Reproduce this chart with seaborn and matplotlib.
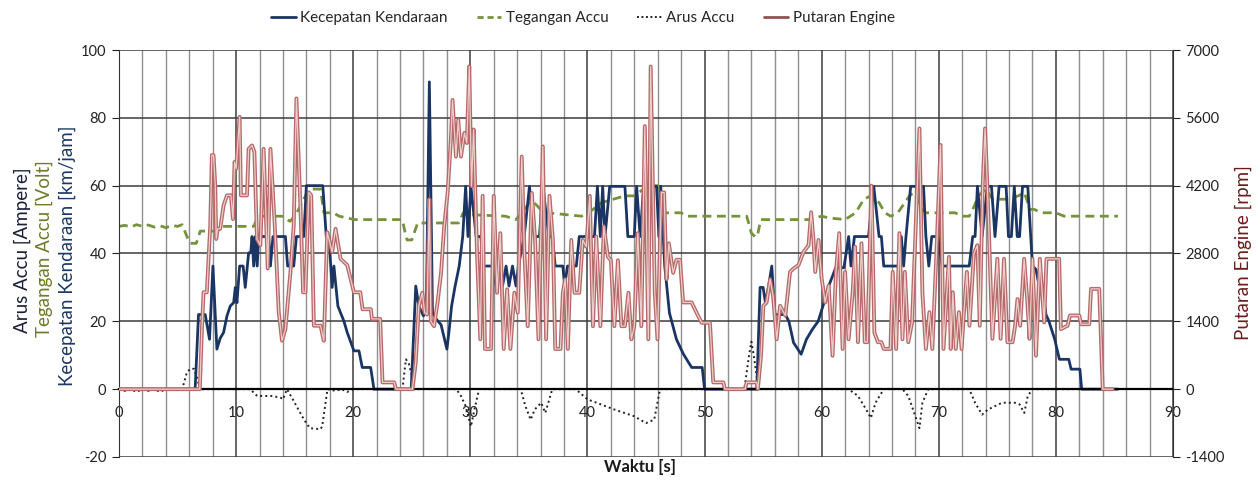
import matplotlib
matplotlib.use("Agg")
import numpy as np
import pandas as pd
import seaborn as sns
import matplotlib.pyplot as plt
from matplotlib.lines import Line2D
from matplotlib.ticker import MultipleLocator

# ---------------- data ----------------
speed_t = [0, 6.5, 6.79, 7.36, 7.73, 8.02, 8.36, 8.64, 8.93, 9.22, 9.5, 9.79, 9.93, 10.07, 10.3, 10.6,
           10.78, 11.07, 11.25, 11.36, 11.5, 11.64, 11.8, 11.93, 12.78, 12.93, 13.15, 14.21, 14.4, 14.92,
           15.15, 15.78, 16.0, 17.4, 17.7, 17.92, 18.2, 18.35, 18.69, 19.2, 19.49, 20.06, 20.49, 20.77,
           21.49, 21.77, 24.95, 25.34, 25.6, 26.0, 26.25, 26.5, 26.77, 27.1, 27.5, 28.0, 28.2, 28.4, 28.7,
           29.05, 29.35, 29.6, 29.8, 30.05, 30.5, 30.9, 31.1, 31.9, 32.2, 32.5, 32.75, 33.05, 33.3, 33.6,
           33.9, 34.1, 34.6, 35.05, 35.5, 35.9, 36.2, 36.7, 37.0, 37.25, 37.9, 38.05, 38.3, 39.05, 39.3,
           40.6, 40.85, 41.1, 41.3, 41.5, 41.9, 43.2, 43.45, 44.0, 44.2, 44.5, 44.8, 45.9, 46.1, 46.26,
           46.6, 47.0, 47.6, 48.2, 48.9, 49.8, 50.0, 54.46, 54.74, 55.0, 55.2, 55.45, 55.74, 56.0, 56.9,
           57.2, 57.6, 58.25, 58.7, 59.2, 59.7, 60.2, 60.6, 61.2, 61.9, 62.3, 62.5, 62.8, 64.0, 64.45,
           64.9, 65.1, 65.3, 66.6, 66.8, 67.0, 67.2, 67.6, 68.7, 68.9, 69.15, 69.4, 69.9, 70.3, 72.6,
           72.9, 73.1, 73.3, 73.7, 74.15, 74.5, 74.8, 75.15, 75.75, 75.95, 76.2, 76.45, 76.7, 76.9,
           77.15, 77.6, 78.0, 78.3, 78.6, 78.9, 79.15, 79.4, 79.9, 80.3, 81.1, 81.3, 82.05, 82.2, 85.3]
speed_kmh = [0, 0, 22, 22, 14.7, 36.3, 11.8, 15, 16.7, 21.6, 24.5, 25.5, 30, 25.5, 36.3, 36.3,
             30, 40.2, 40.2, 45, 36.3, 45, 36.3, 45, 45, 36.3, 45, 45, 36.3, 36.3,
             45, 45, 60, 60, 45, 45, 30, 36.3, 24.5, 20.1, 16.7, 11.3, 11.3, 6.4,
             6.4, 0, 0, 30.4, 24.5, 21.6, 25.5, 90.6, 22.5, 20.6, 19, 11.8, 17.7, 24.5, 30.4,
             36.3, 45, 59.8, 45, 59.8, 45, 45, 36.3, 36.3, 30.4, 36.3, 30.4, 36.3, 30.4, 36.3,
             30.4, 36.3, 45, 59.8, 45, 45, 59.8, 45, 45, 36.3, 36.3, 30.4, 36.3, 36.3, 45,
             45, 59.8, 45, 59.8, 45, 59.8, 59.8, 45, 45, 59.8, 45, 59.8, 59.8, 45, 59.8,
             36.3, 22.5, 14.7, 10.3, 6.4, 6.4, 0, 0, 30, 30, 25.5, 30, 36.3, 22, 22,
             20, 13.7, 10.3, 14.7, 17.6, 20, 25.5, 30.4, 35.8, 35.8, 45, 36.3, 45, 45, 59.8,
             45, 45, 36.3, 36.3, 45, 36.3, 45, 59.8, 59.8, 45, 36.3, 45, 45, 36.3, 36.3,
             45, 45, 59.8, 45, 59.8, 59.8, 45, 59.8, 59.8, 45, 45, 59.8, 45, 45,
             59.8, 59.8, 36.3, 35.3, 29.9, 29.9, 22, 20.1, 14.7, 8.8, 8.8, 5.9, 5.9, 0, 0]

volt_t = [0, 0.5, 1, 1.5, 2, 2.5, 3, 3.5, 4, 4.5, 5.0, 5.4, 5.8, 6.1, 6.6, 6.94, 8.4, 8.8, 11.5,
          11.9, 13.9, 14.6, 15.0, 15.5, 16.06, 16.4, 17.2, 17.5, 18.3, 18.8, 20.1, 24.2, 24.5, 24.6,
          25.0, 25.5, 29.0, 29.4, 29.6, 33.0, 33.9, 34.3, 35.05, 35.3, 36.0, 36.6, 39.5, 40.1, 41.2,
          43.2, 44.0, 45.2, 46.0, 46.6, 48.0, 48.5, 53.6, 54.0, 54.3, 54.5, 54.8, 58.9, 60.0, 60.6,
          62.0, 62.9, 63.6, 64.2, 64.6, 64.9, 65.4, 65.9, 66.5, 67.5, 67.9, 68.6, 68.9, 71.4, 72.0,
          72.6, 72.9, 73.4, 74.0, 74.6, 76.0, 76.8, 77.3, 77.8, 78.15, 78.8, 80.0, 80.7, 85.3]
volt_v = [48, 48.3, 47.8, 48.5, 48, 48.4, 47.8, 48.2, 47.6, 48.3, 48, 48.5, 45, 43, 43, 46.6, 46.6, 48, 48,
          51, 51, 49.5, 51, 54, 58, 59, 59, 52, 52, 51, 50, 50, 45, 44,
          44, 49, 49, 52, 51.5, 51, 50, 51.5, 55, 55.5, 53, 52, 51, 52, 55,
          57, 57, 60, 60, 52, 52, 51, 51, 46, 45, 45, 50, 50, 51, 50.5,
          50, 52, 56, 57, 56, 55, 52, 51, 52, 57, 58, 53, 52, 52, 51,
          51, 53, 57, 59, 56, 56, 57, 58, 53, 53, 52, 52, 51, 51]

arus_t = [0, 0.5, 1.0, 1.5, 2.0, 2.5, 3.0, 3.5, 4.0, 5.4, 5.8, 6.1, 6.4, 6.7, 6.9, 11.2, 11.8, 13.0,
          13.8, 14.0, 14.35, 15.0, 15.8, 16.3, 17.2, 17.35, 17.8, 18.5, 19, 19.5, 20, 24.2, 24.5,
          24.75, 25.0, 25.2, 28.8, 29.2, 29.6, 30.05, 30.35, 30.75, 34.3, 34.7, 35.15, 35.5, 36.05,
          36.4, 37.0, 39.0, 40.0, 42.3, 44.0, 45.0, 45.7, 46.2, 53.4, 53.8, 54.0, 54.2, 54.6, 62.3,
          63.1, 63.8, 64.2, 64.6, 65.3, 66.9, 67.4, 68.0, 68.35, 68.6, 69.1, 72.6, 73.1, 73.7, 74.2,
          74.8, 75.4, 76.5, 76.9, 77.3, 77.6, 78.0, 84.5]
arus_a = [0, -0.5, 0, -0.8, 0, -0.5, 0, -0.8, 0, 0, 5, 6, 6, 3, 0, 0, -2, -2,
          -2.5, -3, 0, -4, -9, -11.5, -11.8, -11, 0, -0.5, 0, -0.8, 0, 0, 8.8,
          7.5, 4, 0, 0, -2, -5, -11, -6, 0, 0, -5, -9, -6, -4,
          -7, 0, 0, -3, -6, -8, -10, -9, 0, 0, 10, 14, 10, 0, 0,
          -2, -6, -8.5, -4, 0, 0, -2, -8, -11.5, -4, 0, 0, -4, -7.5, -6,
          -5, -4, -4, -4.5, -7, -2, 0, 0]

eng_t = [0, 6.9, 7.08, 7.22, 7.5, 7.79, 7.93, 8.07, 8.22, 8.3, 8.42, 8.64, 8.93, 9.22, 9.56, 9.73,
         9.87, 10.0, 10.3, 10.41, 10.93, 11.07, 11.36, 11.56, 11.78, 12.07, 12.35, 12.7, 12.93, 13.3,
         13.64, 13.92, 14.21, 14.64, 14.92, 15.15, 15.49, 15.72, 15.92, 16.21, 16.41, 16.64, 17.21,
         17.49, 17.78, 18.2, 18.49, 18.92, 19.49, 20.06, 20.6, 20.8, 21.5, 21.6, 22.3, 22.5, 23.5,
         23.65, 25.06, 25.34, 25.6, 25.9, 26.1, 26.3, 26.5, 26.63, 26.9, 27.2, 27.5, 27.77, 28.06,
         28.34, 28.48, 28.77, 28.97, 29.2, 29.5, 29.7, 29.91, 30.1, 30.28, 30.57, 30.85, 31.05,
         31.25, 31.77, 32.0, 32.28, 32.56, 32.85, 33.14, 33.42, 33.76, 34.05, 34.39, 34.62, 34.9,
         35.25, 35.53, 35.82, 36.19, 36.47, 36.76, 37.05, 37.25, 37.7, 37.9, 38.1, 38.33, 38.62,
         38.9, 39.3, 39.6, 39.9, 40.2, 40.47, 40.75, 41.1, 41.4, 41.75, 42.0, 42.3, 42.6, 42.9,
         43.2, 43.5, 43.75, 44.0, 44.3, 44.6, 44.9, 45.2, 45.4, 45.75, 45.98, 46.32, 46.55, 46.75,
         46.95, 47.32, 47.6, 47.9, 48.17, 48.9, 49.17, 49.75, 50.46, 50.74, 51.6, 51.74, 53.45,
         53.6, 54.45, 54.55, 54.82, 55.02, 55.3, 55.6, 55.85, 56.16, 56.45, 56.9, 57.3, 57.6,
         58.02, 58.45, 58.88, 59.1, 59.3, 59.45, 59.73, 60.0, 60.3, 60.6, 60.93, 61.22, 61.5,
         61.79, 62.0, 62.3, 62.65, 62.85, 63.1, 63.4, 63.68, 63.9, 64.25, 64.5, 64.8, 65.1, 65.3,
         65.87, 66.07, 66.36, 66.64, 66.9, 67.1, 67.4, 67.72, 68.05, 68.35, 68.6, 68.9, 69.2,
         69.45, 69.8, 70.15, 70.4, 70.87, 71.02, 71.2, 71.45, 71.72, 71.95, 72.15, 72.4, 72.62,
         73.0, 73.3, 73.5, 73.75, 73.95, 74.15, 74.58, 75.0, 75.28, 75.57, 75.86, 76.3, 76.52,
         76.72, 76.95, 77.29, 77.55, 77.75, 78.0, 78.3, 78.63, 79.0, 79.2, 80.28, 80.43, 81.0,
         81.2, 82.0, 82.15, 82.85, 83.0, 83.7, 84.0, 84.85]
eng_rpm = [0, 0, 1240, 2000, 2000, 3360, 4830, 4830, 4200, 3100, 3310, 3310, 3790, 4000, 4000, 3510,
           4690, 4550, 5620, 4000, 4000, 4960, 5030, 4900, 3100, 2970, 4960, 2490, 4960, 3380,
           1590, 1000, 1240, 2420, 3380, 6000, 3780, 2000, 2000, 4060, 4000, 1310, 1310,
           1000, 3240, 2830, 3310, 2690, 2560, 2000, 2000, 1650, 1650, 1450, 1450, 140, 140,
           0, 0, 560, 1720, 1990, 1580, 1540, 3920, 1400, 1300, 1790, 2400, 3360, 4050,
           5150, 5970, 4800, 5560, 4800, 5290, 5080, 6660, 4190, 5360, 2810, 1030, 3990,
           830, 830, 3990, 1990, 3220, 830, 2060, 830, 1990, 1580, 4800, 2810, 1300,
           4050, 3080, 1030, 5010, 1030, 3990, 3080, 830, 830, 1990, 2270, 830, 3080,
           1990, 1990, 3080, 2940, 3990, 1300, 3150, 1300, 3360, 2730, 2660, 1300, 2660, 1300,
           1300, 1990, 1030, 1300, 3220, 1300, 5430, 1030, 6660, 1990, 1030, 4060, 4060, 2270,
           3010, 2400, 2670, 2670, 1790, 1790, 1650, 1370, 1370, 140, 140, 0, 0,
           140, 140, 0, 690, 1720, 1790, 2270, 1930, 1030, 1720, 1520, 2420, 2490,
           2560, 2830, 2970, 3650, 3080, 2420, 3080, 2280, 1790, 2140, 690, 2420, 3220,
           830, 2420, 1030, 2000, 2940, 970, 3010, 970, 970, 4200, 1170, 970, 970, 830,
           830, 2420, 830, 3220, 1030, 2420, 970, 1380, 3500, 5380, 2000, 830, 1590,
           830, 2800, 5040, 830, 2730, 830, 2000, 830, 1590, 830, 1590, 2420, 1310,
           2800, 2970, 1310, 4200, 5380, 4200, 1040, 2690, 1040, 2690, 970, 970, 1310,
           1860, 1310, 2690, 1860, 1040, 2690, 690, 2690, 1380, 2690, 2690, 1240, 1310,
           1520, 1520, 1340, 1340, 2070, 2070, 0, 0]

x_ticks = list(range(0, 91, 10))
y_left_ticks = list(range(-20, 101, 20))
y_right_ticks = list(range(-1400, 7001, 1400))

legend_labels = ["Kecepatan Kendaraan", "Tegangan Accu", "Arus Accu", "Putaran Engine"]

# ---------------- style ----------------
sns.set_style("white")
plt.rcParams['font.family'] = ['Lato', 'DejaVu Sans']
plt.rcParams['axes.unicode_minus'] = False

C_SPEED = '#1a3563'
C_VOLT = '#76923c'
C_ARUS = '#222222'
C_ENG_OUT = '#b46a68'
C_ENG_IN = '#efcdcd'

fig = plt.figure(figsize=(12.6, 4.82), dpi=100)
ax = fig.add_axes([119 / 1260, 1 - 457 / 482, (1173 - 119) / 1260, (457 - 50) / 482])
ax2 = ax.twinx()

speed_df = pd.DataFrame({"t": speed_t, "v": speed_kmh})
volt_df = pd.DataFrame({"t": volt_t, "v": volt_v})
arus_df = pd.DataFrame({"t": arus_t, "v": arus_a})
eng_df = pd.DataFrame({"t": eng_t, "v": eng_rpm})

sns.lineplot(data=arus_df, x="t", y="v", ax=ax, color=C_ARUS, lw=1.4,
             linestyle=(0, (1, 1.6)), estimator=None, sort=False)
sns.lineplot(data=volt_df, x="t", y="v", ax=ax, color=C_VOLT, lw=2.0,
             linestyle=(0, (3.2, 2.0)), estimator=None, sort=False)
sns.lineplot(data=speed_df, x="t", y="v", ax=ax, color=C_SPEED, lw=2.0,
             estimator=None, sort=False)
sns.lineplot(data=eng_df, x="t", y="v", ax=ax2, color=C_ENG_OUT, lw=2.8,
             estimator=None, sort=False)
sns.lineplot(data=eng_df, x="t", y="v", ax=ax2, color=C_ENG_IN, lw=0.9,
             estimator=None, sort=False)

# ---------------- axes ----------------
ax.set_xlim(0, 90)
ax.set_ylim(-20, 100)
ax2.set_ylim(-1400, 7000)
ax.set_xticks(x_ticks)
ax.xaxis.set_minor_locator(MultipleLocator(2))
ax.set_yticks(y_left_ticks)
ax2.set_yticks(y_right_ticks)

ax.set_axisbelow(True)
ax.grid(True, which='minor', axis='x', color='#8f8f8f', lw=1.0)
ax.grid(True, which='major', axis='x', color='#3c3c3c', lw=1.1)
ax.grid(True, which='major', axis='y', color='#3c3c3c', lw=1.1)

for s in ['top', 'right']:
    ax.spines[s].set_visible(False)
ax.spines['left'].set_color('#333333')
ax.spines['bottom'].set_position(('data', 0))
ax.spines['bottom'].set_color('#000000')
ax.spines['bottom'].set_linewidth(1.6)
for s in ['top', 'left', 'bottom']:
    ax2.spines[s].set_visible(False)
ax2.spines['right'].set_color('#333333')

ax.tick_params(axis='x', which='both', length=0, pad=12, labelsize=10.5, colors='#222222')
ax.tick_params(axis='y', length=5, pad=4, labelsize=10.5, colors='#222222', direction='out', left=True)
ax2.tick_params(axis='y', length=5, pad=4, labelsize=10.5, colors='#222222', direction='out', right=True)
ax.set_xlabel("")
ax.set_ylabel("")
ax2.set_ylabel("")

# axis titles
fig.text(640 / 1260, 1 - 467 / 482, "Waktu [s]", ha='center', va='center',
         fontsize=12, fontweight='bold', color='#1a1a1a')
fig.text(22 / 1260, 1 - 250 / 482, "Arus Accu [Ampere]", rotation=90, ha='center', va='center',
         fontsize=13.5, color='#1a1f3a')
fig.text(44 / 1260, 1 - 249 / 482, "Tegangan Accu [Volt]", rotation=90, ha='center', va='center',
         fontsize=13.5, color='#6f7a2a')
fig.text(67 / 1260, 1 - 256 / 482, "Kecepatan Kendaraan [km/jam]", rotation=90, ha='center',
         va='center', fontsize=13.5, color='#1c3766')
fig.text(1243 / 1260, 1 - 253 / 482, "Putaran Engine [rpm]", rotation=90, ha='center', va='center',
         fontsize=13.5, color='#6b1c1c')

# legend
handles = [Line2D([], [], color=C_SPEED, lw=2.0),
           Line2D([], [], color=C_VOLT, lw=2.0, linestyle=(0, (2.2, 1.4))),
           Line2D([], [], color=C_ARUS, lw=1.4, linestyle=(0, (1, 1.3))),
           Line2D([], [], color='#8e5350', lw=2.0)]
fig.legend(handles, legend_labels, loc='center', bbox_to_anchor=(583 / 1260, 1 - 18 / 482), ncol=4,
           frameon=False, fontsize=11, handlelength=1.6, handletextpad=0.3, columnspacing=1.9)

fig.savefig("out.png", dpi=100, facecolor='white')
